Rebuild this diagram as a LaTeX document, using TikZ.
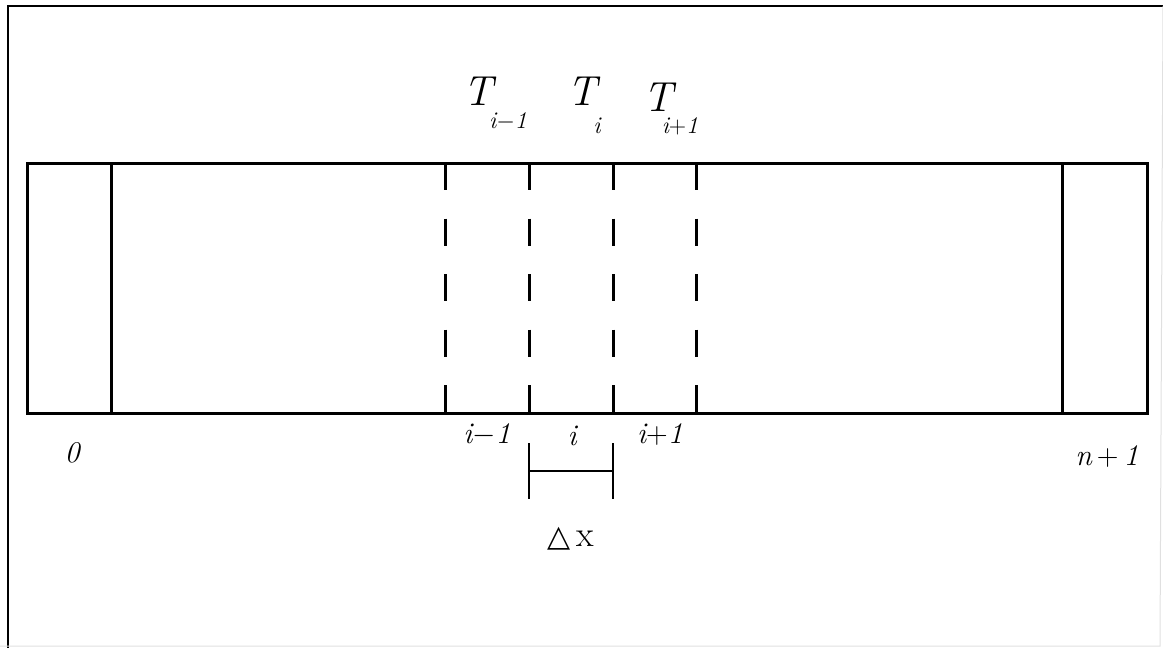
\documentclass[tikz,border=0pt]{standalone}
\usepackage{fix-cm}
\usepackage{fontspec}
\usepackage{tikz}
\newfontfamily\symfont{DejaVu Sans}

\tikzset{
  wall/.style={line width=3pt},
  cellline/.style={line width=3pt, dash pattern=on 27pt off 28.5pt},
  tlbl/.style={font=\fontsize{42}{42}\selectfont, inner sep=0pt, anchor=base},
  sublbl/.style={font=\fontsize{24}{24}\selectfont, inner sep=0pt, anchor=base},
  lbl/.style={font=\fontsize{30}{30}\selectfont, inner sep=0pt, anchor=base},
}

\begin{document}
\begin{tikzpicture}[x=1pt,y=-1pt]
  \useasboundingbox (0,0) rectangle (1163,648);
  % 1. the outer frame
  \coordinate (F1) at (8,6);
  \coordinate (F2) at (1163,6);
  \coordinate (F3) at (1160,646);
  \coordinate (F4) at (8,648);
  \draw[line width=1.8pt] (F4) -- (F1) -- (F2);
  \draw[line width=1pt, black!12] (F2) -- (F3) -- (0,646) ;
  % 2. the bar and its two boundary cells
  \coordinate (A) at (27,163);
  \coordinate (B) at (1147,413);
  \draw[wall] (A) rectangle (B);
  \draw[wall] (111,163) -- (111,413);
  \draw[wall] (1062,163) -- (1062,413);
  % 3. the interior cell faces
  \foreach \xx/\nm in {445/a,529/b,613/c,696/d}{
    \coordinate (\nm top) at (\xx,163);
    \coordinate (\nm bot) at (\xx,413);
    \draw[cellline] (\nm top) -- (\nm bot);
  }
  % temperatures above
  \node[tlbl] (Tim) at (480,105) {\textit{T}};
  \node[sublbl] (sim) at (508,128) {$\mathit{i}{-}\mathit{1}$};
  \node[tlbl] (Ti) at (584,105) {\textit{T}};
  \node[sublbl] (si) at (597,133) {$\mathit{i}$};
  \node[tlbl] (Tip) at (660,111) {\textit{T}};
  \node[sublbl] (sip) at (680,133) {$\mathit{i}{+}\mathit{1}$};
  % node numbers below
  \node[lbl] (n0) at (72,462) {$\mathit{0}$};
  \node[lbl] (nim) at (487,443) {$\mathit{i}{-}\mathit{1}$};
  \node[lbl] (ni) at (572,445) {$\mathit{i}$};
  \node[lbl] (nip) at (660,443) {$\mathit{i}{+}\mathit{1}$};
  \node[lbl] (nn) at (1107,465) {$\mathit{n}\,{+}\,\mathit{1}$};
  % the cell width
  \coordinate (L1) at (529,443);
  \coordinate (L2) at (529,499);
  \coordinate (R1) at (613,443);
  \coordinate (R2) at (613,499);
  \draw[line width=2.6pt] (L1) -- (L2);
  \draw[line width=2.6pt] (R1) -- (R2);
  \draw[line width=2.6pt] (529,471) -- (613,471);
  \node[lbl, font=\fontsize{36}{36}\selectfont] (dx) at (571,546)
    {{\symfont\fontsize{30}{30}\selectfont △}\,x};
\end{tikzpicture}
\end{document}
